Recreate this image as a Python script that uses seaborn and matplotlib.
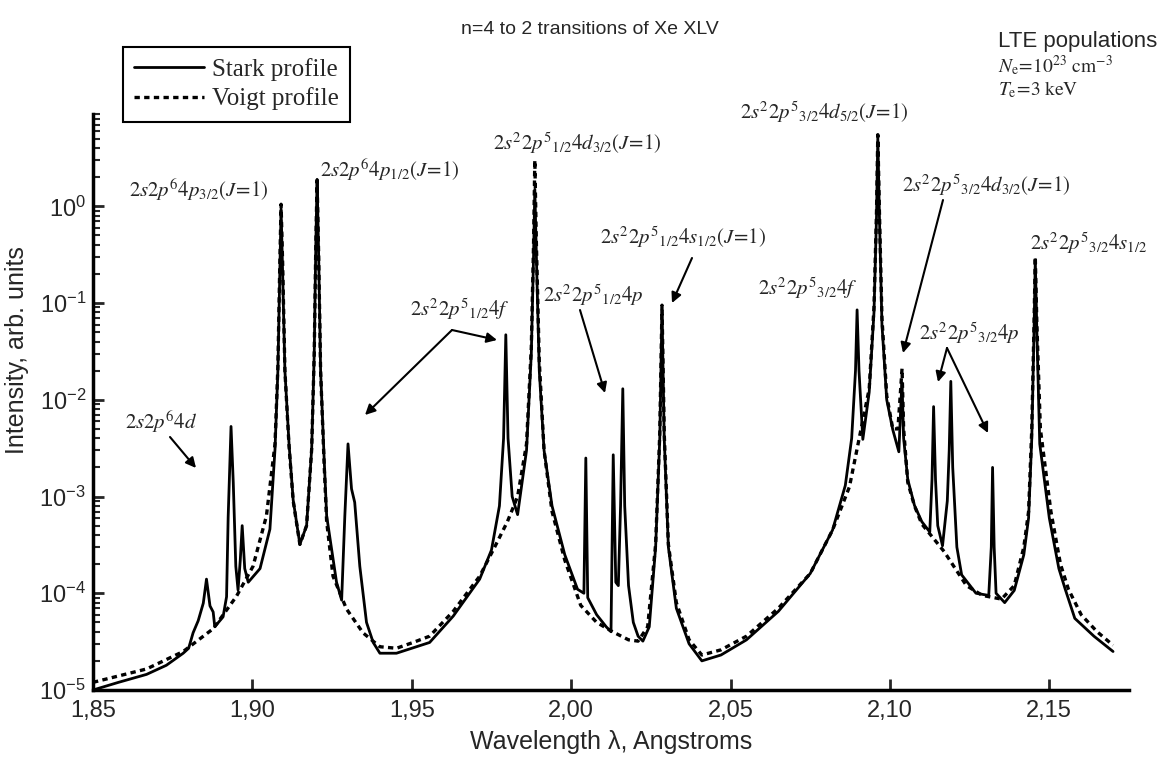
import numpy as np
import pandas as pd
import matplotlib
matplotlib.use('Agg')
import matplotlib.pyplot as plt
from matplotlib.ticker import FixedLocator, LogLocator, NullFormatter
import seaborn as sns

# Stark profile (solid): wavelength in Angstrom, intensity arb. units
stark_wl = [1.8500, 1.8580, 1.8668, 1.8730, 1.8783, 1.8800, 1.8814, 1.8830, 1.8846, 1.8856,
            1.8867, 1.8877, 1.8882, 1.8908, 1.8919, 1.8924, 1.8933, 1.8940, 1.8948, 1.8955,
            1.8962, 1.8968, 1.8976, 1.8987, 1.9024, 1.9055, 1.9071, 1.9080, 1.9086, 1.9090,
            1.9095, 1.9102, 1.9115, 1.9128, 1.9149, 1.9170, 1.9186, 1.9194, 1.9199, 1.9203,
            1.9208, 1.9214, 1.9225, 1.9233, 1.9264, 1.9280, 1.9290, 1.9300, 1.9311, 1.9321,
            1.9337, 1.9358, 1.9379, 1.9400, 1.9452, 1.9556, 1.9630, 1.9713, 1.9750, 1.9775,
            1.9788, 1.9795, 1.9802, 1.9815, 1.9832, 1.9860, 1.9875, 1.9882, 1.9886, 1.9891,
            1.9900, 1.9915, 1.9940, 1.9980, 2.0020, 2.0040, 2.0046, 2.0052, 2.0080, 2.0110,
            2.0125, 2.0132, 2.0140, 2.0148, 2.0155, 2.0162, 2.0168, 2.0180, 2.0195, 2.0210,
            2.0225, 2.0245, 2.0265, 2.0278, 2.0285, 2.0292, 2.0305, 2.0330, 2.0370, 2.0410,
            2.0470, 2.0550, 2.0650, 2.0750, 2.0820, 2.0860, 2.0880, 2.0892, 2.0897, 2.0903,
            2.0915, 2.0935, 2.0950, 2.0958, 2.0962, 2.0967, 2.0975, 2.0990, 2.1009, 2.1028,
            2.1035, 2.1038, 2.1043, 2.1056, 2.1077, 2.1100, 2.1125, 2.1132, 2.1137, 2.1143,
            2.1150, 2.1165, 2.1180, 2.1186, 2.1191, 2.1197, 2.1210, 2.1225, 2.1270, 2.1310,
            2.1318, 2.1322, 2.1327, 2.1333, 2.1360, 2.1390, 2.1420, 2.1435, 2.1445, 2.1452,
            2.1456, 2.1461, 2.1470, 2.1500, 2.1530, 2.1550, 2.1580, 2.1640, 2.1700]
stark_int = [1.0e-5, 1.2e-5, 1.45e-5, 1.8e-5, 2.4e-5, 2.7e-5, 3.9e-5, 5.2e-5, 7.9e-5, 1.4e-4,
             7.4e-5, 6.4e-5, 4.5e-5, 5.7e-5, 9.2e-5, 6.1e-4, 5.3e-3, 1.4e-3, 1.9e-4, 1.08e-4,
             2.2e-4, 5.0e-4, 1.8e-4, 1.3e-4, 1.8e-4, 4.6e-4, 3.1e-3, 0.02, 0.2, 0.95,
             0.2, 0.02, 3.5e-3, 9.2e-4, 3.2e-4, 5.0e-4, 3.1e-3, 0.03, 0.4, 1.9,
             0.3, 0.02, 2.5e-3, 6.3e-4, 1.3e-4, 8.5e-5, 6.3e-4, 3.5e-3, 1.2e-3, 8.7e-4,
             1.9e-4, 5.0e-5, 3.1e-5, 2.4e-5, 2.4e-5, 3.1e-5, 5.8e-5, 1.4e-4, 2.8e-4, 8e-4,
             4e-3, 0.047, 4e-3, 1.0e-3, 6.5e-4, 3e-3, 0.03, 0.3, 1.5, 0.3,
             0.02, 3e-3, 8e-4, 2.5e-4, 1.1e-4, 1.0e-4, 2.5e-3, 9e-5, 6e-5, 4.5e-5,
             4e-5, 2.7e-3, 1.3e-4, 1.2e-4, 8e-4, 0.013, 8e-4, 1.2e-4, 5e-5, 3.6e-5,
             3.2e-5, 4.5e-5, 3e-4, 4e-3, 0.085, 4e-3, 3e-4, 7e-5, 3e-5, 2.0e-5,
             2.3e-5, 3.3e-5, 6.5e-5, 1.6e-4, 4.5e-4, 1.3e-3, 4e-3, 0.02, 0.085, 0.02,
             3.9e-3, 0.012, 0.08, 0.8, 5.2, 0.8, 0.06, 0.01, 4.9e-3, 2.9e-3,
             0.010, 0.015, 4e-3, 1.5e-3, 8.1e-4, 5.5e-4, 4.3e-4, 1.5e-3, 8.5e-3, 1.5e-3,
             5e-4, 3.1e-4, 9e-4, 3e-3, 0.0155, 2e-3, 3e-4, 1.55e-4, 1.0e-4, 9.5e-5,
             3e-4, 2.0e-3, 3e-4, 1.0e-4, 8e-5, 1.07e-4, 2.5e-4, 6e-4, 4e-3, 0.05,
             0.28, 0.05, 3.5e-3, 6e-4, 1.8e-4, 1.1e-4, 5.5e-5, 3.6e-5, 2.5e-5]

# Voigt profile (dotted)
voigt_wl = [1.8500, 1.8668, 1.8783, 1.8877, 1.8950, 1.9002, 1.9044, 1.9071, 1.9080, 1.9086,
            1.9090, 1.9095, 1.9102, 1.9115, 1.9128, 1.9149, 1.9170, 1.9186, 1.9194, 1.9199,
            1.9203, 1.9208, 1.9214, 1.9225, 1.9233, 1.9253, 1.9295, 1.9347, 1.9400, 1.9452,
            1.9504, 1.9556, 1.9630, 1.9713, 1.9760, 1.9800, 1.9832, 1.9860, 1.9875, 1.9882,
            1.9886, 1.9891, 1.9900, 1.9915, 1.9940, 1.9980, 2.0030, 2.0080, 2.0130, 2.0180,
            2.0210, 2.0240, 2.0265, 2.0278, 2.0285, 2.0292, 2.0305, 2.0330, 2.0370, 2.0410,
            2.0470, 2.0550, 2.0650, 2.0750, 2.0820, 2.0873, 2.0903, 2.0935, 2.0950, 2.0958,
            2.0962, 2.0967, 2.0975, 2.0990, 2.1009, 2.1025, 2.1033, 2.1038, 2.1043, 2.1056,
            2.1077, 2.1100, 2.1170, 2.1240, 2.1290, 2.1350, 2.1390, 2.1420, 2.1435, 2.1445,
            2.1452, 2.1456, 2.1461, 2.1472, 2.1505, 2.1535, 2.1560, 2.1600, 2.1650, 2.1700]
voigt_int = [1.2e-5, 1.65e-5, 2.5e-5, 4.3e-5, 9.3e-5, 1.9e-4, 6.3e-4, 3.5e-3, 0.022, 0.25,
             1.05, 0.25, 0.02, 3.3e-3, 9e-4, 3.2e-4, 5e-4, 3.1e-3, 0.03, 0.4,
             1.85, 0.3, 0.02, 2.2e-3, 5.5e-4, 1.5e-4, 6.9e-5, 3.9e-5, 2.8e-5, 2.7e-5,
             3.1e-5, 3.6e-5, 6.5e-5, 1.5e-4, 3e-4, 5.5e-4, 1.0e-3, 3.5e-3, 0.035, 0.4,
             3.0, 0.4, 0.025, 3e-3, 7e-4, 2.2e-4, 7.5e-5, 5e-5, 4e-5, 3.3e-5,
             3.2e-5, 4.5e-5, 3.2e-4, 4.5e-3, 0.095, 4.5e-3, 3.2e-4, 8e-5, 3.3e-5, 2.3e-5,
             2.6e-5, 3.6e-5, 7e-5, 1.6e-4, 4.5e-4, 1.26e-3, 3.9e-3, 0.013, 0.09, 0.9,
             5.5, 0.9, 0.07, 0.011, 5e-3, 5e-3, 0.012, 0.021, 5e-3, 1.4e-3,
             8e-4, 5.2e-4, 2.7e-4, 1.2e-4, 9.5e-5, 8.7e-5, 1.2e-4, 3e-4, 7e-4, 5e-3,
             0.06, 0.3, 0.06, 5e-3, 7e-4, 2e-4, 1.1e-4, 6e-5, 4e-5, 2.9e-5]

x_ticks = [1.85, 1.90, 1.95, 2.00, 2.05, 2.10, 2.15]
x_tick_labels = ['1,85', '1,90', '1,95', '2,00', '2,05', '2,10', '2,15']
y_ticks = [1e-5, 1e-4, 1e-3, 1e-2, 1e-1, 1e0]
y_tick_labels = [r'$\mathregular{10^{-5}}$', r'$\mathregular{10^{-4}}$', r'$\mathregular{10^{-3}}$',
                 r'$\mathregular{10^{-2}}$', r'$\mathregular{10^{-1}}$', r'$\mathregular{10^{0}}$']

sns.set_theme(style='ticks')
plt.rcParams['font.family'] = ['Liberation Sans', 'DejaVu Sans']
plt.rcParams['mathtext.fontset'] = 'stix'

W, H = 1175, 763
def fp(x, y):  # pixel position (from top-left) -> figure fraction
    return (x / W, 1 - y / H)

fig = plt.figure(figsize=(11.75, 7.63), dpi=100)
ax = fig.add_axes([93 / W, 1 - 690 / H, (1129 - 93) / W, (690 - 114) / H])

stark = pd.DataFrame({'wl': stark_wl, 'I': stark_int})
voigt = pd.DataFrame({'wl': voigt_wl, 'I': voigt_int})
sns.lineplot(data=stark, x='wl', y='I', ax=ax, color='black', linewidth=2.0,
             estimator=None, sort=False)
sns.lineplot(data=voigt, x='wl', y='I', ax=ax, color='black', linewidth=2.4,
             linestyle=(0, (1.6, 1.3)), estimator=None, sort=False)

ax.set_yscale('log')
ax.set_xlim(1.85, 2.175)
ax.set_ylim(1e-5, 9)
ax.xaxis.set_major_locator(FixedLocator(x_ticks))
ax.set_xticklabels(x_tick_labels)
ax.yaxis.set_major_locator(FixedLocator(y_ticks))
ax.set_yticklabels(y_tick_labels)
ax.yaxis.set_minor_locator(LogLocator(base=10, subs=np.arange(2, 10)))
ax.yaxis.set_minor_formatter(NullFormatter())
ax.tick_params(which='major', direction='in', length=8, width=2, labelsize=17)
ax.tick_params(axis='x', which='major', pad=7)
ax.tick_params(axis='y', which='major', pad=5)
ax.tick_params(which='minor', direction='in', length=5, width=1.5)
ax.tick_params(axis='x', which='minor', length=0)
for s in ['top', 'right']:
    ax.spines[s].set_visible(False)
for s in ['left', 'bottom']:
    ax.spines[s].set_linewidth(2.5)
    ax.spines[s].set_color('black')
ax.set_xlabel('Wavelength λ, Angstroms', fontsize=18, labelpad=6)
ax.set_ylabel('Intensity, arb. units', fontsize=18)
ax.yaxis.set_label_coords(-0.062, 0.59)

# legend
lines = ax.get_lines()
leg = fig.legend([lines[0], lines[1]], ['Stark profile', 'Voigt profile'],
                 loc='upper left', bbox_to_anchor=fp(123, 47), borderaxespad=0,
                 frameon=True, fancybox=False, edgecolor='black', framealpha=1,
                 handlelength=2.8, handletextpad=0.3, borderpad=0.45, labelspacing=0.25,
                 prop={'family': 'Liberation Serif', 'size': 18})
leg.get_frame().set_linewidth(1.5)

# titles and notes
fig.text(*fp(590, 30), 'n=4 to 2 transitions of Xe XLV', fontsize=14, ha='center', va='center')
fig.text(*fp(998, 42), 'LTE populations', fontsize=16, ha='left', va='center')
fig.text(*fp(998, 66), r'$N_{\rm e}\!=\!10^{23}\ {\rm cm}^{-3}$', fontsize=14, ha='left', va='center')
fig.text(*fp(998, 90), r'$T_{\rm e}\!=\!3\ {\rm keV}$', fontsize=14, ha='left', va='center')

# line labels
labels = [
    (125, 422, r'$2s2p^6 4d$'),
    (129, 190, r'$2s2p^6 4p_{3/2}(J\!=\!1)$'),
    (320, 170, r'$2s2p^6 4p_{1/2}(J\!=\!1)$'),
    (410, 309, r'$2s^2 2p^5{}_{1/2}4f$'),
    (493, 143, r'$2s^2 2p^5{}_{1/2}4d_{3/2}(J\!=\!1)$'),
    (543, 295, r'$2s^2 2p^5{}_{1/2}4p$'),
    (600, 237, r'$2s^2 2p^5{}_{1/2}4s_{1/2}(J\!=\!1)$'),
    (758, 288, r'$2s^2 2p^5{}_{3/2}4f$'),
    (740, 112, r'$2s^2 2p^5{}_{3/2}4d_{5/2}(J\!=\!1)$'),
    (902, 185, r'$2s^2 2p^5{}_{3/2}4d_{3/2}(J\!=\!1)$'),
    (919, 333, r'$2s^2 2p^5{}_{3/2}4p$'),
    (1030, 243, r'$2s^2 2p^5{}_{3/2}4s_{1/2}$'),
]
for x, y, t in labels:
    fig.text(*fp(x, y), t, fontsize=15, ha='left', va='center')

# arrows: (start, end) in pixels
arrows = [
    ((170, 437), (196, 468)),
    ((452, 330), (365, 415)),
    ((452, 330), (497, 340)),
    ((580, 310), (605, 393)),
    ((692, 258), (672, 303)),
    ((943, 200), (903, 353)),
    ((947, 348), (938, 382)),
    ((947, 348), (988, 433)),
]
for (x0, y0), (x1, y1) in arrows:
    fig.add_artist(matplotlib.patches.FancyArrowPatch(
        fp(x0, y0), fp(x1, y1), transform=fig.transFigure, arrowstyle='-|>,head_length=6,head_width=3',
        color='black', linewidth=1.5, shrinkA=0, shrinkB=0))

fig.savefig('out.png', dpi=100)
